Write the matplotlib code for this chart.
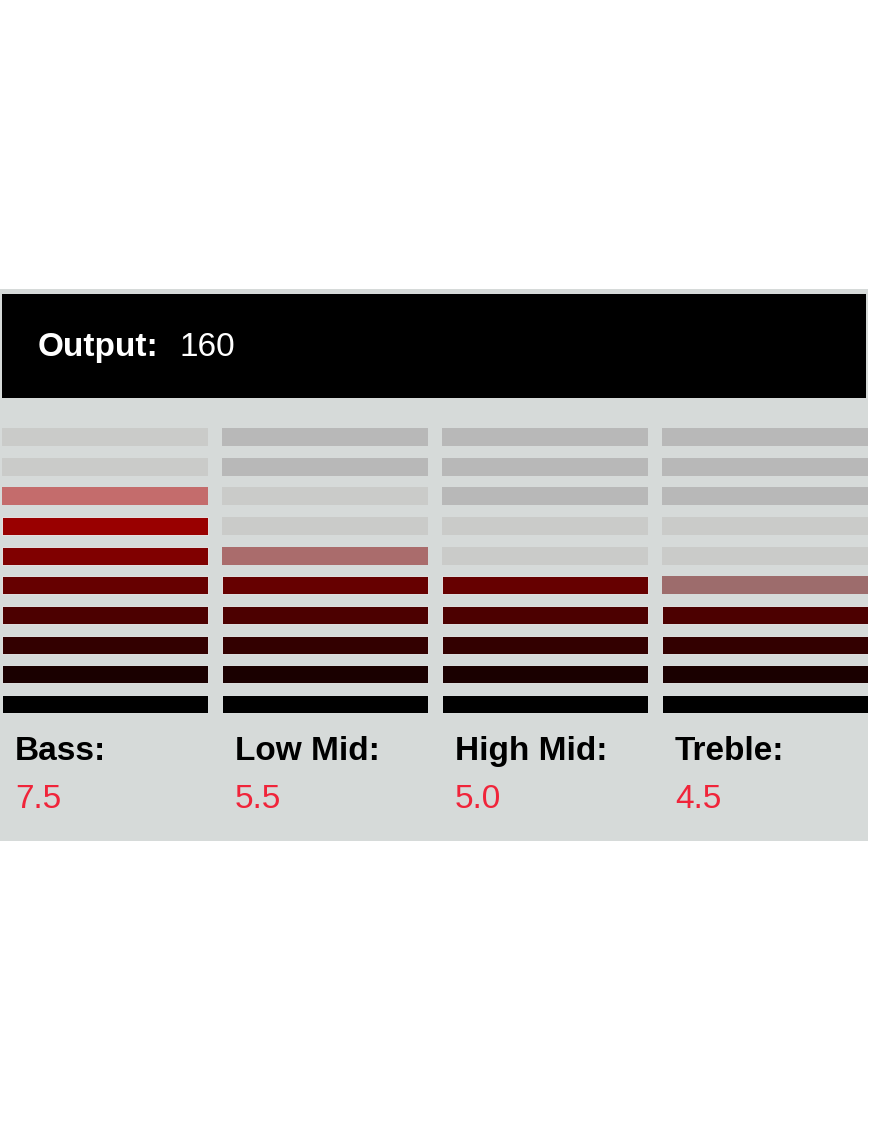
import numpy as np
import matplotlib
matplotlib.use('Agg')
import matplotlib.pyplot as plt
from matplotlib.patches import Rectangle

## equaliser meter: 4 bands, 10 segments each

bands = ['Bass:', 'Low Mid:', 'High Mid:', 'Treble:']
levels = [7.5, 5.5, 5.0, 4.5]
peak_hold = [10, 8, 7, 7]      # segments below this index are "recently lit" (light grey)
output_val = 160
n_seg = 10

seg_colors = ['#000000', '#1a0000', '#330000', '#4c0000', '#660000',
              '#800000', '#990000', '#b30000', '#cc0000', '#e60000']
off_light = '#cacbc9'
off_dark = '#b8b8b8'
panel_bg = '#d6dad9'
value_red = '#f0243a'

plt.rcParams['font.family'] = ['Liberation Sans', 'DejaVu Sans']

W, H = 870, 1131
fig = plt.figure(figsize=(W/100, H/100), dpi=100)
fig.patch.set_facecolor('white')

# background axes in pixel coords for the panel frame
bg = fig.add_axes([0, 0, 1, 1])
bg.set_xlim(0, W); bg.set_ylim(H, 0); bg.axis('off')
bg.add_patch(Rectangle((0, 289), 868, 552, facecolor=panel_bg, edgecolor='none'))
bg.add_patch(Rectangle((2, 294), 864, 104, facecolor='black', edgecolor='none'))

# meter axes, spans the grey body (pixel y 398..841)
top_px, bot_px = 398, 841
ax = fig.add_axes([0, 1 - bot_px/H, 868/W, (bot_px - top_px)/H])
ax.set_facecolor('none')
pitch = 29.67
ax.set_xlim((0 - 105)/220, (868 - 105)/220)
ax.set_ylim((704 - bot_px)/pitch, (704 - top_px)/pitch)
ax.axis('off')

bar_w = 206/220
bar_h = 18/pitch
rows = np.arange(n_seg)
for i, (lev, pk) in enumerate(zip(levels, peak_hold)):
    for r in rows:
        if r + 1 <= lev:
            c, a, ec = seg_colors[r], 1.0, '#eef2f2'
        elif r < lev:
            c, a, ec = seg_colors[r], 0.5, 'none'
        elif r < pk:
            c, a, ec = off_light, 1.0, 'none'
        else:
            c, a, ec = off_dark, 1.0, 'none'
        ax.bar(i, bar_h, width=bar_w, bottom=r - bar_h/2, color=c, alpha=a,
               edgecolor=ec, linewidth=0.6)

    x_txt = i - 90/220
    ax.text(x_txt, (704 - 760)/pitch, bands[i], fontsize=24, fontweight='bold',
            color='black', va='baseline', ha='left')
    ax.text(x_txt, (704 - 808)/pitch, '%.1f' % lev, fontsize=24,
            color=value_red, va='baseline', ha='left')

# header text
fig.text(38/W, 1 - 356/H, 'Output:', fontsize=24, fontweight='bold',
         color='white', va='baseline', ha='left')
fig.text(180/W, 1 - 356/H, str(output_val), fontsize=24,
         color='white', va='baseline', ha='left')

fig.savefig('out.png', dpi=100, facecolor='white')
